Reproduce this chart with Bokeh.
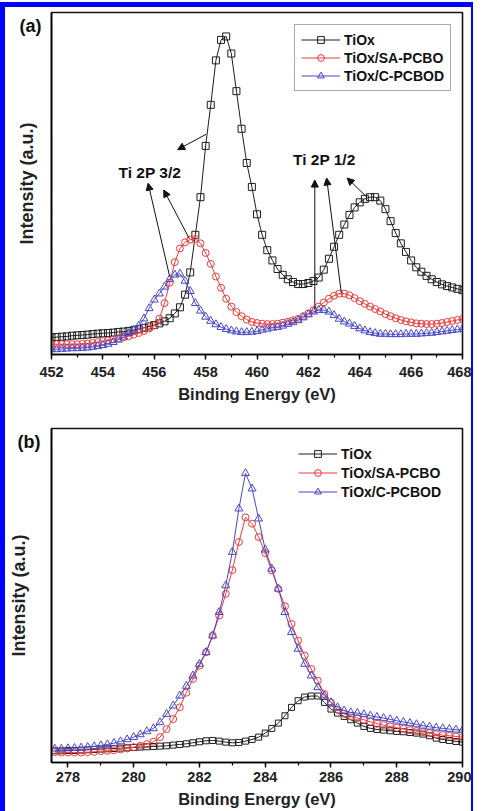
import numpy as np
from bokeh.plotting import figure
from bokeh.layouts import column, row
from bokeh.models import (Legend, LegendItem, Label, Arrow, NormalHead, Div,
                          SingleIntervalTicker, FixedTicker, Range1d)
from bokeh.embed import file_html
from bokeh.resources import INLINE

# ---------------- data: panel (a) Ti 2p ----------------
energy_a = np.round(np.arange(452.0, 468.0001, 0.2), 1)
tiox_a = [5.0, 5.1, 5.2, 5.3, 5.5, 5.6, 5.7, 5.8, 6.0, 6.1,
          6.2, 6.3, 6.4, 6.6, 6.7, 6.9, 7.1, 7.4, 7.8, 8.2,
          8.6, 9.1, 9.7, 10.6, 12.0, 13.8, 17.5, 24.0, 35.0, 46.0,
          61.0, 73.0, 86.0, 92.0, 93.0, 88.0, 77.0, 66.0, 56.0, 49.0,
          41.0, 35.0, 30.5, 27.5, 25.0, 23.3, 22.0, 21.2, 20.6, 20.6,
          20.9, 21.5, 22.5, 24.8, 28.0, 31.5, 35.0, 38.0, 40.8, 43.0,
          44.5, 45.5, 46.0, 46.0, 45.0, 42.5, 39.0, 35.5, 32.5, 30.0,
          27.5, 25.5, 24.2, 23.0, 22.0, 21.2, 20.5, 20.0, 19.6, 19.2,
          18.8]
sa_pcbo_a = [3.0, 3.0, 3.0, 3.0, 3.0, 3.0, 3.1, 3.2, 3.4, 3.6,
             3.9, 4.1, 4.4, 4.7, 5.0, 5.3, 5.8, 6.3, 6.9, 7.6,
             8.5, 10.5, 15.0, 21.0, 27.0, 31.0, 32.8, 33.6, 33.8, 32.5,
             29.7, 26.5, 22.8, 19.5, 16.3, 14.0, 12.4, 11.2, 10.2, 9.5,
             9.2, 9.0, 8.9, 8.9, 9.0, 9.3, 9.6, 10.0, 10.4, 11.2,
             12.0, 13.0, 14.0, 15.2, 16.3, 17.2, 17.8, 17.8, 17.3, 16.5,
             15.6, 14.8, 14.0, 13.3, 12.6, 11.8, 11.2, 10.6, 10.1, 9.7,
             9.4, 9.1, 9.0, 8.9, 8.9, 9.0, 9.2, 9.5, 9.8, 10.1,
             10.4]
c_pcbod_a = [1.5, 1.5, 1.6, 1.7, 1.8, 1.8, 1.9, 2.0, 2.2, 2.4,
             2.7, 3.1, 3.6, 4.3, 5.2, 6.2, 7.2, 8.4, 10.5, 13.5,
             16.0, 17.8, 19.8, 22.0, 23.3, 23.6, 21.5, 18.5, 15.0, 12.8,
             11.0, 9.8, 8.8, 8.0, 7.4, 7.0, 6.7, 6.5, 6.5, 6.6,
             6.8, 7.2, 7.5, 7.8, 8.0, 8.4, 8.9, 9.4, 10.0, 10.8,
             11.7, 12.5, 13.0, 13.0, 12.5, 11.5, 10.4, 9.6, 9.0, 8.3,
             7.6, 7.0, 6.5, 6.2, 6.0, 6.0, 5.9, 5.9, 5.9, 6.0,
             6.0, 6.0, 6.1, 6.2, 6.3, 6.5, 6.7, 6.9, 7.1, 7.3,
             7.4]

# ---------------- data: panel (b) C 1s ----------------
energy_b = np.round(np.arange(277.6, 290.0001, 0.2), 1)
tiox_b = [3.5, 3.5, 3.6, 3.6, 3.7, 3.8, 3.9, 4.0, 4.1, 4.2,
          4.3, 4.4, 4.5, 4.6, 4.7, 4.8, 4.9, 5.0, 5.2, 5.4,
          5.6, 5.9, 6.2, 6.5, 6.6, 6.4, 6.1, 5.9, 6.0, 6.4,
          6.9, 7.6, 8.8, 10.2, 11.8, 14.0, 16.5, 18.5, 19.6, 19.9,
          19.9, 18.0, 16.0, 14.8, 13.8, 12.8, 11.8, 10.8, 10.2, 9.9,
          9.7, 9.5, 9.3, 9.2, 9.0, 8.8, 8.5, 8.0, 7.3, 6.9,
          6.6, 6.3, 6.1]
sa_pcbo_b = [3.1, 3.0, 3.0, 3.0, 3.0, 3.1, 3.2, 3.4, 3.5, 3.7,
             3.9, 4.2, 4.6, 5.0, 5.5, 6.2, 7.6, 10.0, 13.0, 16.5,
             20.9, 25.0, 29.0, 33.0, 38.0, 44.0, 50.5, 57.6, 66.0, 73.4,
             71.5, 67.5, 62.7, 57.5, 52.0, 46.8, 41.5, 36.5, 32.0, 28.0,
             24.5, 20.5, 18.0, 15.8, 14.6, 13.9, 13.3, 12.8, 12.2, 11.6,
             11.2, 10.8, 10.4, 10.1, 9.7, 9.4, 9.1, 8.8, 8.5, 8.2,
             8.0, 7.8, 7.6]
c_pcbod_b = [4.1, 4.1, 4.2, 4.3, 4.4, 4.6, 4.8, 5.1, 5.4, 5.8,
             6.3, 6.9, 7.6, 8.4, 9.3, 10.2, 12.0, 14.5, 17.0, 20.0,
             22.9, 26.0, 29.5, 33.0, 38.0, 45.0, 53.0, 63.0, 76.0, 86.6,
             82.0, 73.0, 63.7, 58.0, 52.0, 45.0, 39.0, 34.0, 29.5, 26.0,
             22.5, 20.0, 18.0, 16.5, 15.5, 15.0, 14.8, 14.4, 14.0, 13.6,
             13.3, 12.9, 12.5, 12.1, 11.8, 11.4, 11.0, 10.7, 10.4, 10.2,
             10.0, 9.8, 9.7]

series_names = ["TiOx", "TiOx/SA-PCBO", "TiOx/C-PCBOD"]
series_colors = ["#1e1e1e", "#ee3b3b", "#4848c8"]
series_markers = ["square", "circle", "triangle"]
panel_tags = ["(a)", "(b)"]

# annotations of panel (a)
peak_labels = ["Ti 2P 3/2", "Ti 2P 1/2"]
peak_label_x = [454.61, 461.40]
peak_label_y = [53.1, 57.0]
arrow_x_start = [458.02, 456.60, 457.37, 462.25, 463.28, 464.28]
arrow_y_start = [64.4, 22.8, 33.8, 13.4, 18.1, 46.0]
arrow_x_end = [456.91, 455.76, 456.37, 462.25, 462.71, 463.51]
arrow_y_end = [59.9, 50.1, 48.1, 51.0, 51.6, 51.6]

FONT = "Liberation Sans"
FIG_W = 466
H_A, H_B = 401, 411


def make_panel(energy, ys, x_rng, height, borders, marker_sizes, legend_loc, legend_box,
               legend_spacing, tag, tag_standoff, y_label_standoff, x_label_standoff, x_title_standoff):
    p = figure(width=FIG_W, height=height, output_backend="svg", toolbar_location=None,
               x_range=Range1d(*x_rng), y_range=Range1d(0, 100))
    p.min_border_left, p.min_border_right, p.min_border_top, p.min_border_bottom = borders
    p.grid.visible = False
    p.outline_line_color = "#111111"
    p.outline_line_width = 1.6
    p.background_fill_color = "white"
    p.border_fill_color = "white"

    items = []
    for y, name, col, mk, ms in zip(ys, series_names, series_colors, series_markers, marker_sizes):
        lr = p.line(energy, y, line_color=col, line_width=1)
        sr = p.scatter(energy, y, marker=mk, size=ms, line_color=col, fill_color=None, line_width=1)
        items.append(LegendItem(label=name, renderers=[lr, sr]))

    leg = Legend(items=items, location=legend_loc, glyph_width=39, glyph_height=17,
                 label_height=17, label_standoff=4, padding=6, spacing=legend_spacing, margin=0,
                 label_text_font=FONT, label_text_font_style="bold", label_text_font_size="14px",
                 label_text_color="#111111")
    if legend_box:
        leg.border_line_color = "#555555"
        leg.border_line_width = 1
    else:
        leg.border_line_alpha = 0
        leg.background_fill_alpha = 0
    p.add_layout(leg, "center")

    xa = p.xaxis[0]
    xa.ticker = SingleIntervalTicker(interval=2, num_minor_ticks=2)
    xa.axis_label = "Binding Energy (eV)"
    xa.axis_line_width = 1.6
    xa.major_tick_out = 5
    xa.major_tick_in = 0
    xa.minor_tick_out = 3
    xa.minor_tick_in = 0
    xa.major_tick_line_width = 1.4
    xa.minor_tick_line_width = 1.2
    xa.major_label_standoff = x_label_standoff
    xa.axis_label_standoff = x_title_standoff
    xa.major_label_text_font = FONT
    xa.major_label_text_font_style = "bold"
    xa.major_label_text_font_size = "14.5px"
    xa.major_label_text_color = "#222222"
    xa.axis_label_text_font = FONT
    xa.axis_label_text_font_style = "bold"
    xa.axis_label_text_font_size = "16.5px"
    xa.axis_label_text_color = "#222222"

    # y axis: no ticks; the panel tag "(a)"/"(b)" is its only (horizontal) tick label
    ya = p.yaxis[0]
    ya.ticker = FixedTicker(ticks=[96])
    ya.major_label_overrides = {96: tag}
    ya.axis_label = "Intensity (a.u.)"
    ya.axis_line_width = 1.6
    ya.major_tick_line_color = None
    ya.minor_tick_line_color = None
    ya.major_tick_out = 0
    ya.major_tick_in = 0
    ya.minor_tick_out = 0
    ya.minor_tick_in = 0
    ya.major_label_standoff = tag_standoff
    ya.major_label_text_font = FONT
    ya.major_label_text_font_style = "bold"
    ya.major_label_text_font_size = "18px"
    ya.major_label_text_color = "#111111"
    ya.axis_label_standoff = y_label_standoff
    ya.axis_label_text_font = FONT
    ya.axis_label_text_font_style = "bold"
    ya.axis_label_text_font_size = "18px"
    ya.axis_label_text_color = "#222222"
    return p


pa = make_panel(energy_a, [tiox_a, sa_pcbo_a, c_pcbod_a], (452, 468), H_A,
                (38, 2, 5, 54), [7, 7, 8], (243, 263), True, 1, panel_tags[0], 10, -20, 7, 5)

for txt, tx, ty in zip(peak_labels, peak_label_x, peak_label_y):
    pa.add_layout(Label(x=tx, y=ty, text=txt, text_font=FONT, text_font_style="bold",
                        text_font_size="15.5px", text_baseline="middle", text_align="left",
                        text_color="#111111"))
for xs, ys_, xe, ye in zip(arrow_x_start, arrow_y_start, arrow_x_end, arrow_y_end):
    pa.add_layout(Arrow(end=NormalHead(size=7, fill_color="#111111", line_color="#111111", line_width=1),
                        x_start=xs, y_start=ys_, x_end=xe, y_end=ye,
                        line_color="#111111", line_width=1))

pb = make_panel(energy_b, [tiox_b, sa_pcbo_b, c_pcbod_b], (277.5, 290), H_B,
                (44, 9, 20, 57), [6, 7, 8], (241, 256), False, 2, panel_tags[1], 11, -14, 4, 5)

BLUE = {"background-color": "#0000ff"}
top_gap = Div(text="", width=5 + FIG_W + 2, height=2, margin=0)
top_bar = Div(text="", width=5 + FIG_W + 2, height=5, styles=BLUE, margin=0)
left_bar = Div(text="", width=5, height=H_A + H_B, styles=BLUE, margin=0)
right_bar = Div(text="", width=2, height=H_A + H_B, styles=BLUE, margin=0)
layout = column(top_gap, top_bar, row(left_bar, column(pa, pb), right_bar))

open("out.html", "w").write(file_html(layout, INLINE))
